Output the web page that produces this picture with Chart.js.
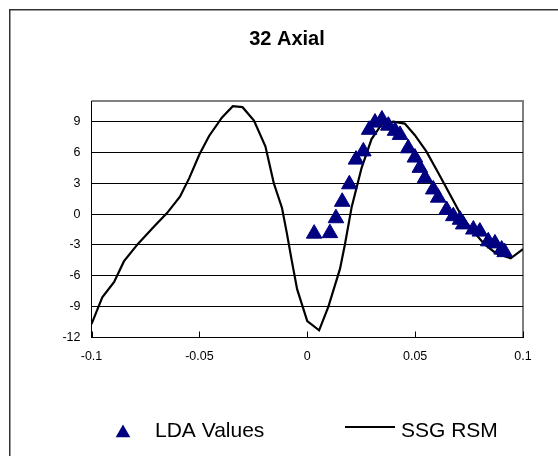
<!DOCTYPE html>
<html>
<head>
<meta charset="utf-8">
<script src="https://cdn.jsdelivr.net/npm/chart.js@4/dist/chart.umd.min.js"></script>
<style>
  html, body { margin: 0; padding: 0; background: #fff; }
  #c { display: block; }
</style>
</head>
<body>
<canvas id="c" width="558" height="456"></canvas>
<script>
// ---- data ----
const chartTitle = '32 Axial';
const seriesNames = ['LDA Values', 'SSG RSM'];

const ldaX = [0.0032, 0.0105, 0.0133, 0.0162, 0.0195, 0.0226, 0.026, 0.0287, 0.0314, 0.0346,
              0.0376, 0.0407, 0.043, 0.0468, 0.0499, 0.0522, 0.0546, 0.0584, 0.0607, 0.0646,
              0.0677, 0.0708, 0.0723, 0.077, 0.08, 0.0839, 0.087, 0.0901, 0.0915];
const ldaY = [-1.9, -1.85, -0.4, 1.2, 2.9, 5.3, 6.1, 8.2, 8.9, 9.2,
              8.6, 8.1, 7.7, 6.4, 5.5, 4.5, 3.5, 2.4, 1.6, 0.4,
              -0.2, -0.55, -1.0, -1.5, -1.7, -2.65, -2.85, -3.45, -3.7];

const ssgX = [-0.1, -0.095, -0.0895, -0.085, -0.0785, -0.071, -0.065, -0.059, -0.0547, -0.05,
              -0.0455, -0.0395, -0.0345, -0.03, -0.0247, -0.0194, -0.0155, -0.0117, -0.0095, -0.0072,
              -0.0047, 0.0, 0.0055, 0.0098, 0.0152, 0.0175, 0.0206, 0.0252, 0.0298, 0.0344,
              0.0398, 0.0452, 0.0498, 0.0552, 0.0605, 0.0659, 0.0713, 0.0767, 0.082, 0.0874,
              0.0943, 0.1];
const ssgY = [-10.7, -8.1, -6.6, -4.6, -2.9, -1.2, 0.1, 1.7, 3.5, 5.8,
              7.6, 9.4, 10.5, 10.4, 9.1, 6.6, 3.0, 0.6, -1.8, -4.5,
              -7.3, -10.4, -11.3, -9.0, -5.3, -2.9, 0.7, 4.5, 7.3, 8.7,
              9.0, 8.8, 7.7, 6.1, 4.1, 2.0, -0.1, -1.6, -2.9, -3.8,
              -4.3, -3.4];

const xTicks = [-0.1, -0.05, 0, 0.05, 0.1];
const xTickLabels = ['-0.1', '-0.05', '0', '0.05', '0.1'];
const yTicks = [-12, -9, -6, -3, 0, 3, 6, 9];
const yTickLabels = ['-12', '-9', '-6', '-3', '0', '3', '6', '9'];

// ---- styling ----
const FONT = "'Liberation Sans', Arial, sans-serif";
const NAVY = '#000080';

const frame = {
  id: 'frame',
  beforeDraw(chart) {
    const ctx = chart.ctx;
    const a = chart.chartArea;
    ctx.save();
    ctx.fillStyle = '#fff';
    ctx.fillRect(0, 0, chart.width, chart.height);
    ctx.strokeStyle = '#333';
    ctx.lineWidth = 1.5;
    ctx.strokeRect(9.75, 9.75, 800, 800);
    // plot area border (top + right) in gray
    ctx.strokeStyle = '#808080';
    ctx.lineWidth = 2;
    ctx.beginPath();
    ctx.moveTo(a.left, a.top);
    ctx.lineTo(a.right, a.top);
    ctx.lineTo(a.right, a.bottom);
    ctx.stroke();
    ctx.restore();
  },
  afterDraw(chart) {
    const ctx = chart.ctx;
    const xs = chart.scales.x;
    const a = chart.chartArea;
    ctx.save();
    // inside tick marks on the x axis
    ctx.strokeStyle = '#000';
    ctx.lineWidth = 1;
    xs.ticks.forEach(t => {
      const px = Math.round(xs.getPixelForValue(t.value)) + 0.5;
      ctx.beginPath();
      ctx.moveTo(px, a.bottom);
      ctx.lineTo(px, a.bottom - 6);
      ctx.stroke();
    });
    // legend
    const ly = 437;
    const tx = 123, ty = 433, r = 8.5;
    ctx.fillStyle = NAVY;
    ctx.beginPath();
    ctx.moveTo(tx, ty - r);
    ctx.lineTo(tx + r * Math.sqrt(3) / 2, ty + r / 2);
    ctx.lineTo(tx - r * Math.sqrt(3) / 2, ty + r / 2);
    ctx.closePath();
    ctx.fill();
    ctx.fillStyle = '#000';
    ctx.font = '21px ' + FONT;
    ctx.textBaseline = 'alphabetic';
    ctx.textAlign = 'left';
    ctx.fillText(seriesNames[0], 155, ly);
    ctx.strokeStyle = '#000';
    ctx.lineWidth = 2;
    ctx.beginPath();
    ctx.moveTo(345, 427);
    ctx.lineTo(395, 427);
    ctx.stroke();
    ctx.fillText(seriesNames[1], 401, ly);
    ctx.restore();
  }
};

new Chart(document.getElementById('c'), {
  type: 'scatter',
  data: {
    datasets: [
      {
        label: seriesNames[1],
        data: ssgX.map((x, i) => ({ x, y: ssgY[i] })),
        showLine: true,
        borderColor: '#000',
        backgroundColor: '#000',
        borderWidth: 2.2,
        pointRadius: 0,
        tension: 0,
        order: 2
      },
      {
        label: seriesNames[0],
        data: ldaX.map((x, i) => ({ x, y: ldaY[i] })),
        showLine: false,
        pointStyle: 'triangle',
        pointRadius: 9,
        pointBorderWidth: 1,
        backgroundColor: NAVY,
        borderColor: NAVY,
        order: 1
      }
    ]
  },
  options: {
    responsive: false,
    animation: false,
    devicePixelRatio: 1,
    layout: { padding: { left: 51, right: 35, top: 0, bottom: 88.5 } },
    plugins: {
      legend: { display: false },
      tooltip: { enabled: false },
      title: {
        display: true,
        text: chartTitle,
        color: '#000',
        font: { family: FONT, size: 20, weight: 'bold', lineHeight: 1.2 },
        padding: { top: 27, bottom: 50 }
      }
    },
    scales: {
      x: {
        type: 'linear',
        min: -0.1,
        max: 0.1,
        afterBuildTicks: s => { s.ticks = xTicks.map(v => ({ value: v })); },
        afterFit: s => { s.height = 30; },
        grid: { display: false, drawTicks: false },
        border: { display: true, color: '#000', width: 1 },
        ticks: {
          padding: 12,
          color: '#000',
          font: { family: FONT, size: 12.5 },
          maxRotation: 0,
          callback: (v, i) => xTickLabels[i]
        }
      },
      y: {
        type: 'linear',
        min: -12,
        max: 11,
        afterBuildTicks: s => { s.ticks = yTicks.map(v => ({ value: v })); },
        afterFit: s => { s.width = 40.5; },
        grid: { color: '#000', lineWidth: 1, drawTicks: false },
        border: { display: true, color: '#000', width: 1 },
        ticks: {
          padding: 11,
          color: '#000',
          font: { family: FONT, size: 12.5 },
          callback: (v, i) => yTickLabels[i]
        }
      }
    }
  },
  plugins: [frame]
});
</script>
</body>
</html>
